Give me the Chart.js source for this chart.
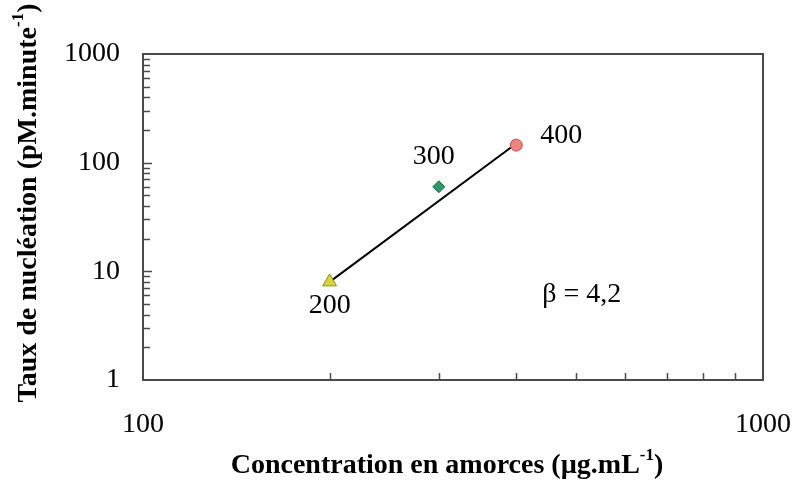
<!DOCTYPE html>
<html>
<head>
<meta charset="utf-8">
<script src="https://cdn.jsdelivr.net/npm/chart.js@4/dist/chart.umd.min.js"></script>
<style>
  html, body { margin: 0; padding: 0; background: #fff; }
  #wrap { width: 793px; height: 482px; }
</style>
</head>
<body>
<div id="wrap"><canvas id="myChart"></canvas></div>
<script>
// donnees
const concentrations = [200, 300, 400];
const rates = [8, 60, 145];
const pointLabels = ['200', '300', '400'];

// droite d'ajustement (pente beta)
const fitX = [200, 400];
const fitY = [8, 150];
const betaText = '\u03B2 = 4,2';

const xTickLabels = [100, 1000];
const yTickLabels = [1, 10, 100, 1000];

const serif = "'Liberation Serif', 'Times New Roman', serif";
const axisColor = '#4a4a4a';

// petites graduations vers l'interieur + titres avec exposant
const extras = {
    id: 'extras',
    afterDraw(chart) {
        const ctx = chart.ctx;
        const xs = chart.scales.x;
        const ys = chart.scales.y;
        const a = chart.chartArea;
        ctx.save();

        ctx.strokeStyle = axisColor;
        ctx.lineWidth = 2;
        ctx.strokeRect(a.left, a.top, a.right - a.left, a.bottom - a.top);

        ctx.lineWidth = 1.5;
        for (let d = 1; d < 1000; d *= 10) {
            for (let k = 1; k <= 9; k++) {
                const v = d * k;
                if (v === 1) continue;
                const py = Math.round(ys.getPixelForValue(v)) + 0.5;
                const len = k === 1 ? 9 : 7;
                ctx.beginPath();
                ctx.moveTo(a.left, py);
                ctx.lineTo(a.left + len, py);
                ctx.stroke();
            }
        }
        for (let k = 2; k <= 9; k++) {
            const px = Math.round(xs.getPixelForValue(k * 100)) + 0.5;
            ctx.beginPath();
            ctx.moveTo(px, a.bottom);
            ctx.lineTo(px, a.bottom - 7);
            ctx.stroke();
        }

        // etiquettes des points
        ctx.fillStyle = '#000';
        ctx.font = '28px ' + serif;
        ctx.textAlign = 'center';
        ctx.textBaseline = 'middle';
        const offs = [[0, 24], [-5, -30], [45, -9]];
        concentrations.forEach((c, i) => {
            const px = xs.getPixelForValue(c);
            const py = ys.getPixelForValue(rates[i]);
            ctx.fillText(pointLabels[i], px + offs[i][0], py + offs[i][1]);
        });
        ctx.fillText(betaText, xs.getPixelForValue(510), ys.getPixelForValue(6.1));

        // titre axe x
        drawSupTitle(ctx, 'Concentration en amorces (\u00B5g.mL', '-1', ')',
            (a.left + a.right) / 2 - 6, 466);
        // titre axe y
        ctx.save();
        ctx.translate(29, 203);
        ctx.rotate(-Math.PI / 2);
        drawSupTitle(ctx, 'Taux de nucl\u00E9ation (pM.minute', '-1', ')', 0, 0);
        ctx.restore();

        ctx.restore();
    }
};

function drawSupTitle(ctx, main, sup, tail, cx, cy) {
    const big = 'bold 28px ' + serif;
    const small = 'bold 17px ' + serif;
    ctx.font = big;
    const w1 = ctx.measureText(main).width;
    const w3 = ctx.measureText(tail).width;
    ctx.font = small;
    const w2 = ctx.measureText(sup).width;
    let x = cx - (w1 + w2 + w3) / 2;
    ctx.textAlign = 'left';
    ctx.textBaseline = 'middle';
    ctx.fillStyle = '#000';
    ctx.font = big;
    ctx.fillText(main, x, cy);
    x += w1;
    ctx.font = small;
    ctx.fillText(sup, x, cy - 10);
    x += w2;
    ctx.font = big;
    ctx.fillText(tail, x, cy);
}

const data = {
    datasets: [
        {
            label: 'ajustement',
            data: fitX.map((x, i) => ({ x: x, y: fitY[i] })),
            showLine: true,
            borderColor: '#000',
            borderWidth: 2,
            pointRadius: 0,
            order: 2
        },
        {
            label: '200',
            data: [{ x: concentrations[0], y: rates[0] }],
            pointStyle: 'triangle',
            pointRadius: 8,
            backgroundColor: '#d6d63a',
            borderColor: '#8a8a2a',
            borderWidth: 1,
            order: 1
        },
        {
            label: '300',
            data: [{ x: concentrations[1], y: rates[1] }],
            pointStyle: 'rectRot',
            pointRadius: 6,
            backgroundColor: '#2f9a68',
            borderColor: '#1f6a48',
            borderWidth: 1,
            order: 1
        },
        {
            label: '400',
            data: [{ x: concentrations[2], y: rates[2] }],
            pointStyle: 'circle',
            pointRadius: 6,
            backgroundColor: '#f08282',
            borderColor: '#b85050',
            borderWidth: 1,
            order: 1
        }
    ]
};

const config = {
    type: 'scatter',
    data,
    options: {
        responsive: true,
        maintainAspectRatio: false,
        animation: false,
        layout: { padding: { left: 0, top: 54, right: 28, bottom: 0 } },
        plugins: {
            legend: { display: false },
            tooltip: { enabled: false }
        },
        scales: {
            x: {
                type: 'logarithmic',
                min: 100,
                max: 1000,
                grid: { display: false, drawTicks: true, tickLength: 26 },
                border: { display: false },
                afterBuildTicks: (s) => { s.ticks = xTickLabels.map(v => ({ value: v })); },
                afterFit: (s) => { s.height = 102; },
                ticks: {
                    autoSkip: false,
                    maxRotation: 0,
                    padding: 2,
                    color: '#000',
                    font: { family: serif, size: 28 },
                    callback: (v) => String(v)
                }
            },
            y: {
                type: 'logarithmic',
                min: 1,
                max: 1000,
                grid: { display: false, drawTicks: true, tickLength: 20 },
                border: { display: false },
                afterBuildTicks: (s) => { s.ticks = yTickLabels.map(v => ({ value: v })); },
                afterFit: (s) => { s.width = 143; },
                ticks: {
                    autoSkip: false,
                    padding: 3,
                    color: '#000',
                    font: { family: serif, size: 28 },
                    callback: (v) => String(v)
                }
            }
        }
    },
    plugins: [extras]
};

var myChart = new Chart(document.getElementById('myChart'), config);
</script>
</body>
</html>
